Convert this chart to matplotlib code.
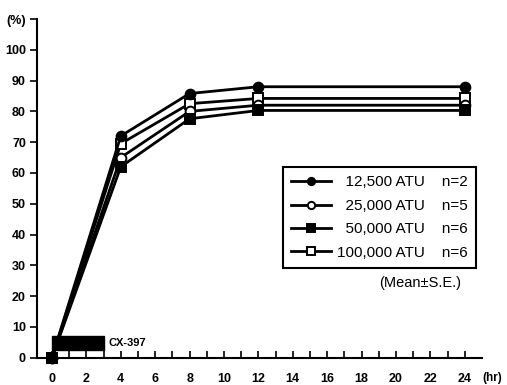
import numpy as np
import matplotlib.pyplot as plt
from matplotlib.patches import Rectangle

# time points (hr)
hours = [0, 4, 8, 12, 24]

# series values (%)
atu_12500 = [0, 72.0, 85.8, 88.0, 88.0]
atu_100000 = [0, 69.5, 82.5, 84.2, 84.2]
atu_25000 = [0, 65.0, 80.0, 82.0, 82.0]
atu_50000 = [0, 62.0, 77.6, 80.3, 80.3]

# standard errors
se_12500 = [0, 0.8, 0.8, 0.8, 0.8]
se_100000 = [0, 0.8, 0.8, 0.8, 0.8]
se_25000 = [0, 0.8, 0.8, 0.8, 0.8]
se_50000 = [0, 0.8, 1.0, 1.8, 1.8]

ns = ["n=2", "n=5", "n=6", "n=6"]
labels = ["12,500 ATU", "25,000 ATU", "50,000 ATU", "100,000 ATU"]

# dosing period of CX-397
dose_start = 0
dose_end = 3
dose_low = 2.5
dose_high = 7.0

plt.rcParams['font.family'] = ['Liberation Sans', 'DejaVu Sans']

fig = plt.figure(figsize=(5.07, 3.85), dpi=100)
ax = fig.add_axes([37/507, 27.3/385, 445/507, 338.7/385])

series = [
    (atu_12500, se_12500, 'o', 'black'),
    (atu_25000, se_25000, 'o', 'white'),
    (atu_50000, se_50000, 's', 'black'),
    (atu_100000, se_100000, 's', 'white'),
]
# draw order so the filled square ends up on top at t=0
draw_order = [3, 1, 0, 2]

handles = [None] * 4
for k, i in enumerate(draw_order):
    vals, se, mk, fc = series[i]
    ax.errorbar(hours, vals, yerr=se, color='black', capsize=0,
                elinewidth=1.3, zorder=3 + k * 0.1, clip_on=False, fmt='none')
    h, = ax.plot(hours, vals, color='black', lw=2, marker=mk, ms=7,
                 mfc=fc, mec='black', mew=1.4, zorder=4 + k * 0.1,
                 clip_on=False)
    handles[i] = h

# CX-397 bar
ax.add_patch(Rectangle((dose_start, dose_low), dose_end - dose_start,
                       dose_high - dose_low, color='black', zorder=5))
ax.text(dose_end + 0.3, (dose_low + dose_high) / 2, "CX-397", fontsize=8,
        fontweight='bold', va='center', ha='left')

ax.set_xlim(-0.87, 25)
ax.set_ylim(0, 110)

ax.spines['top'].set_visible(False)
ax.spines['right'].set_visible(False)
for s in ['left', 'bottom']:
    ax.spines[s].set_linewidth(1.5)

ax.set_xticks(range(0, 25, 2))
ax.set_xticks(range(1, 25, 2), minor=True)
ax.tick_params(axis='x', which='both', direction='in', length=5, width=1.2,
               labelsize=9, pad=11)
for t in ax.get_xticklabels():
    t.set_fontweight('bold')

yt = list(range(0, 101, 10)) + [110]
ax.set_yticks(yt)
ax.set_yticklabels([str(v) for v in range(0, 101, 10)] + ["(%)"])
ax.tick_params(axis='y', direction='out', length=5, width=1.2, labelsize=9,
               pad=3)
for t in ax.get_yticklabels():
    t.set_fontweight('bold')

ax.text(25.05, -0.061, "(hr)", transform=ax.get_xaxis_transform(),
        fontsize=8.5, fontweight='bold', ha='left', va='center')

# legend with aligned n= column
fs = '\u2007'
leg_labels = []
for lab, n in zip(labels, ns):
    pad = fs * (11 - len(lab))
    leg_labels.append(pad + lab + "    " + n)
leg = ax.legend(handles, leg_labels, loc='upper left',
                bbox_to_anchor=(0.553, 0.563), borderaxespad=0,
                fancybox=False, edgecolor='black', framealpha=1,
                fontsize=11, handlelength=2.6, handletextpad=0.4,
                labelspacing=0.62, markerscale=0.75, borderpad=0.55)
leg.get_frame().set_linewidth(1.5)

ax.text(0.86, 0.221, "(Mean\u00b1S.E.)", transform=ax.transAxes,
        fontsize=10.5, ha='center', va='center')

fig.savefig("out.png", dpi=100)
